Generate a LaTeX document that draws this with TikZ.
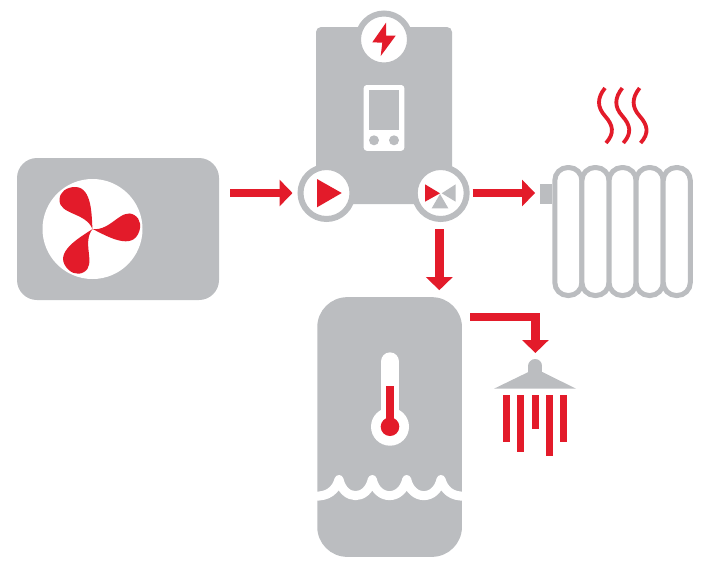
\documentclass[tikz,border=0pt]{standalone}
\usepackage{tikz}
\usetikzlibrary{arrows.meta}
\usetikzlibrary{positioning}
\definecolor{unitgray}{HTML}{BBBDC0}
\definecolor{flowred}{HTML}{E31B2A}
\tikzset{
	unitbox/.style={fill=unitgray, inner sep=0pt, outer sep=0pt},
	ringnode/.style={circle, draw=unitgray, fill=white, line width=6pt, minimum size=52pt, inner sep=0pt},
	flow/.style={draw=flowred, line width=8.5pt, -{Triangle[width=26pt,length=13pt]}},
	redpart/.style={fill=flowred},
	graypart/.style={fill=unitgray},
	heatline/.style={draw=flowred, line width=3.8pt},
	finline/.style={draw=unitgray, line width=5pt, fill=white, rounded corners=13pt}
}

\begin{document}
\begin{tikzpicture}[x=1pt, y=-1pt, >=Latex]
	\useasboundingbox (0,0) rectangle (706,566);

	% Outdoor unit with fan
	\node (hpump) [unitbox, rounded corners=20pt, minimum width=202pt, minimum height=142pt] at (118,229) {};
	\node (fan) [circle, fill=white, minimum size=100pt, inner sep=0pt] at (92.5,229) {};
	\foreach \a in {0,-120,-240} {
		\fill[redpart, shift={(fan.center)}, rotate=\a] (0,0) .. controls (-1,-12) and (0,-42) .. (-17.3,-42)
			.. controls (-26,-42) and (-33,-37) .. (-33,-29) .. controls (-33,-14) and (-7,-17) .. (0,0) -- cycle;
	}

	% Control unit
	\node (ctrl) [unitbox, rounded corners=5pt, minimum width=136pt, minimum height=177pt] at (384,115.5) {};
	\node (power) [ringnode] at (384,39.5) {};
	\fill[redpart] (386,22.7) -- (372.3,42.3) -- (382.3,42.7) -- (380.7,56) -- (395.7,35.7) -- (386,35.7) -- cycle;

	% Display
	\node (phone) [fill=white, rounded corners=3pt, minimum width=40.6pt, minimum height=65.7pt, inner sep=0pt] at (384,117.9) {};
	\node (screen) [unitbox, minimum width=30.3pt, minimum height=40pt] at (384.1,110) {};
	\foreach \x in {374,394}
		\fill[graypart] (\x,140.3) circle (5pt);

	% Pump and valve
	\node (pump) [ringnode] at (326.5,193) {};
	\fill[redpart] (317,179) -- (317,207.3) -- (341.7,193) -- cycle;
	\node (valve) [ringnode] at (440.7,193) {};
	\fill[redpart] (425,184.3) -- (425,201.7) -- (440,193.3) -- cycle;
	\fill[graypart] (455.7,184.3) -- (455.7,201.7) -- (441.7,193.3) -- cycle;
	\fill[graypart] (431.7,208.3) -- (448.3,208.3) -- (440,194) -- cycle;

	% Radiator
	\node (stub) [unitbox, minimum width=12.3pt, minimum height=20pt] at (546.2,194.3) {};
	\foreach \x in {554.8,581.9,609,636.1,663.2}
		\draw[finline] (\x,167.5) rectangle ++(27.1,128);
	\foreach \x in {0,17.3,34.6} {
		\draw[heatline, xshift=\x pt] (605,88) .. controls (597,98) and (597,107) .. (605,116)
			.. controls (613,125) and (615,133) .. (606,143);
	}

	% Storage tank
	\node (tank) [unitbox, rounded corners=30pt, minimum width=144.7pt, minimum height=259.7pt] at (389.6,427) {};
	\draw[white, line width=18.7pt, line cap=round] (390,361.7) -- (390,420);
	\node (bulb) [circle, fill=white, minimum size=38pt, inner sep=0pt] at (390,426.7) {};
	\draw[flowred, line width=8pt] (390,386) -- (390,425);
	\node (bulbred) [circle, fill=flowred, minimum size=18.6pt, inner sep=0pt] at (bulb.center) {};

	% Water line
	\draw[white, line width=9pt, line cap=round, line join=round] (314,496)
		.. controls (328,497) and (336,490) .. (339,479.5)
		.. controls (344,501) and (367,501) .. (372.3,479.5)
		.. controls (377.3,501) and (401.7,501) .. (406.7,479.5)
		.. controls (411.7,501) and (436,501) .. (441,479.5)
		.. controls (444,490) and (452,497) .. (465,496);

	% Shower
	\fill[graypart] (494,388.7) -- (528.4,372) -- (542.4,372) -- (576,388.7) -- cycle;
	\draw[unitgray, line width=14pt, line cap=round] (535.4,366) -- (535.4,378);
	\foreach \x/\yend in {503/442.3, 517.3/451.7, 531.7/429.3, 546/456, 560.3/441.7}
		\fill[redpart] (\x,395) rectangle (\x+7,\yend);

	% Arrows
	\coordinate (tankout) at (470,317);
	\coordinate (showertop) at (535.4,353);
	\coordinate (tanktap) at (439.3,229);
	\draw[flow, shorten <=11pt, shorten >=5pt] (hpump.east|-pump.west) -- (pump.west);
	\draw[flow, shorten <=3pt, shorten >=5pt] (valve.east) -- (stub.west|-valve.east);
	\draw[flow, shorten >=7pt] (tanktap) -- (tanktap|-tank.north);
	\draw[flow] (tankout) -| (showertop);
\end{tikzpicture}
\end{document}
